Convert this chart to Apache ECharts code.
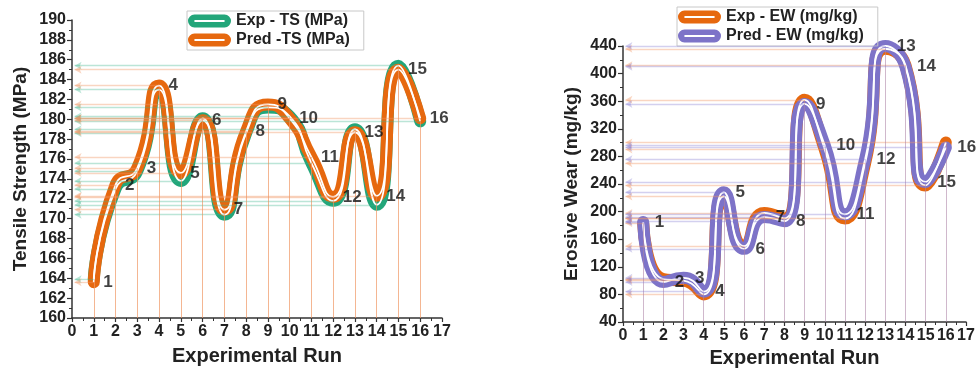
<!DOCTYPE html>
<html><head><meta charset="utf-8">
<script src="https://cdn.jsdelivr.net/npm/echarts@6/dist/echarts.min.js"></script>
<style>html,body{margin:0;padding:0;background:#fff}#c{width:979px;height:368px}</style>
</head><body><div id="c"></div>
<script>
// ---------- data ----------
const runs = [1,2,3,4,5,6,7,8,9,10,11,12,13,14,15,16];
const expTS  = [163.9,173.0,174.8,183.0,173.8,180.1,170.4,178.6,181.2,180.3,175.6,171.8,179.0,171.4,185.4,179.8];
const predTS = [163.6,173.4,175.1,183.4,174.6,179.9,170.9,178.8,181.5,180.1,176.2,172.2,178.7,172.3,185.0,180.1];
const expEW  = [183,102,100,80,222,150,198,190,362,290,190,270,436,412,238,300];
const predEW = [185,98,104,84,228,146,192,186,356,296,196,276,440,410,243,293];
const tsRange = {min:160, max:190, interval:2};
const ewRange = {min:40, max:440, interval:40};
const runRange = {min:0, max:17, interval:1};
const tsLegend = ['Exp - TS (MPa)', 'Pred -TS (MPa)'];
const ewLegend = ['Exp - EW (mg/kg)', 'Pred - EW (mg/kg)'];
const tsAxisName = 'Tensile Strength (MPa)';
const ewAxisName = 'Erosive Wear (mg/kg)';
const runAxisName = 'Experimental Run';

// ---------- style ----------
const FONT = 'Liberation Sans';
const GREEN = '#23a67a', ORANGE = '#e6680f', PURPLE = '#7d73c8';
const ICON = 'path://M6 0 L34 0 A6 6 0 0 1 34 12 L6 12 A6 6 0 0 1 6 0 Z M6 5.1 L6 6.9 L34 6.9 L34 5.1 Z';
const SMOOTH = 0.6;

function pts(vals){ return vals.map((v,i)=>[runs[i], v]); }

function guideLines(vals, ymin, vColor, hColor, arrowColor){
  const d = [];
  vals.forEach((v,i)=>{
    d.push([{coord:[runs[i], ymin], symbol:'none'},{coord:[runs[i], v], symbol:'none', lineStyle:{color:vColor,width:1,type:'solid'}}]);
    d.push([{coord:[0.12, v], symbol:'arrow', symbolSize:[6,7], itemStyle:{color:arrowColor}},{coord:[runs[i], v], symbol:'none', lineStyle:{color:hColor,width:1.4,type:'solid'}}]);
  });
  return d;
}

function lineSet(name, vals, color, gi, ymin, vColor, hColor){
  return [
    {name:name, type:'line', xAxisIndex:gi, yAxisIndex:gi, data:pts(vals), smooth:SMOOTH,
     symbol:'none', color:color, lineStyle:{color:color, width:12, cap:'round', join:'round'},
     markLine:{silent:true, animation:false, label:{show:false}, symbol:['arrow','none'],
       data:guideLines(vals, ymin, vColor, hColor, color)}, z:3},
    {type:'line', xAxisIndex:gi, yAxisIndex:gi, data:pts(vals), smooth:SMOOTH, symbol:'none',
     lineStyle:{color:'#ffffff', width:1.8}, z:4, silent:true}
  ];
}

function labelSeries(vals, gi, dist){
  return {type:'scatter', xAxisIndex:gi, yAxisIndex:gi, data:pts(vals), symbolSize:1,
    itemStyle:{color:'rgba(0,0,0,0)'}, z:10, silent:true,
    label:{show:true, position:'right', distance:dist, formatter:p=>String(runs[p.dataIndex]),
      fontFamily:FONT, fontWeight:'bold', fontSize:17, color:'#111'}};
}

function xAxis(gi, gap){
  return {type:'value', gridIndex:gi, min:runRange.min, max:runRange.max, interval:runRange.interval,
    name:runAxisName, nameLocation:'middle', nameGap:gap,
    nameTextStyle:{fontFamily:FONT, fontWeight:'bold', fontSize:20, color:'#222'},
    axisLine:{show:true, onZero:false, lineStyle:{color:'#333', width:1.5}},
    axisTick:{show:true, length:4, lineStyle:{color:'#333', width:1.2}},
    minorTick:{show:true, splitNumber:2, length:3, lineStyle:{color:'#333'}},
    splitLine:{show:false},
    axisLabel:{fontFamily:FONT, fontWeight:'bold', fontSize:16, color:'#222', margin:6}};
}
function yAxis(gi, r, name, gap){
  return {type:'value', gridIndex:gi, min:r.min, max:r.max, interval:r.interval,
    name:name, nameLocation:'middle', nameGap:gap, nameRotate:90,
    nameTextStyle:{fontFamily:FONT, fontWeight:'bold', fontSize:19, color:'#222'},
    axisLine:{show:true, lineStyle:{color:'#333', width:1.5}},
    axisTick:{show:true, length:5, lineStyle:{color:'#333', width:1.2}},
    minorTick:{show:true, splitNumber:2, length:3, lineStyle:{color:'#333'}},
    splitLine:{show:false},
    axisLabel:{fontFamily:FONT, fontWeight:'bold', fontSize:16, color:'#222', margin:6}};
}
function legend(names, left, top){
  return {data:names.map(n=>({name:n, icon:ICON})), orient:'vertical', left:left, top:top,
    itemWidth:43, itemHeight:13, itemGap:3, padding:[2,14,2,1],
    borderColor:'#c8c8c8', borderWidth:1,
    textStyle:{fontFamily:FONT, fontWeight:'bold', fontSize:16, color:'#222'}};
}

const option = {
  animation:false,
  backgroundColor:'#fff',
  grid:[{left:72, top:20, width:370, height:298, outerBoundsMode:'none', containLabel:false},
        {left:623, top:46, width:343, height:276, outerBoundsMode:'none', containLabel:false}],
  xAxis:[xAxis(0, 28), xAxis(1, 25)],
  yAxis:[yAxis(0, tsRange, tsAxisName, 42), yAxis(1, ewRange, ewAxisName, 42)],
  legend:[legend(tsLegend, 187, 11), legend(ewLegend, 677, 7)],
  series:[].concat(
    lineSet(tsLegend[0], expTS, GREEN, 0, tsRange.min, 'rgba(240,150,100,0.45)', 'rgba(60,180,140,0.35)'),
    lineSet(tsLegend[1], predTS, ORANGE, 0, tsRange.min, 'rgba(240,150,100,0.45)', 'rgba(240,150,100,0.4)'),
    [labelSeries(predTS, 0, 9)],
    lineSet(ewLegend[0], expEW, ORANGE, 1, ewRange.min, 'rgba(240,150,100,0.35)', 'rgba(240,150,100,0.4)'),
    lineSet(ewLegend[1], predEW, PURPLE, 1, ewRange.min, 'rgba(130,120,210,0.35)', 'rgba(130,120,210,0.35)'),
    [labelSeries(predEW, 1, 11)]
  )
};
const chart = echarts.init(document.getElementById('c'), null, {renderer:'canvas'});
chart.setOption(option);
</script>
</body></html>
